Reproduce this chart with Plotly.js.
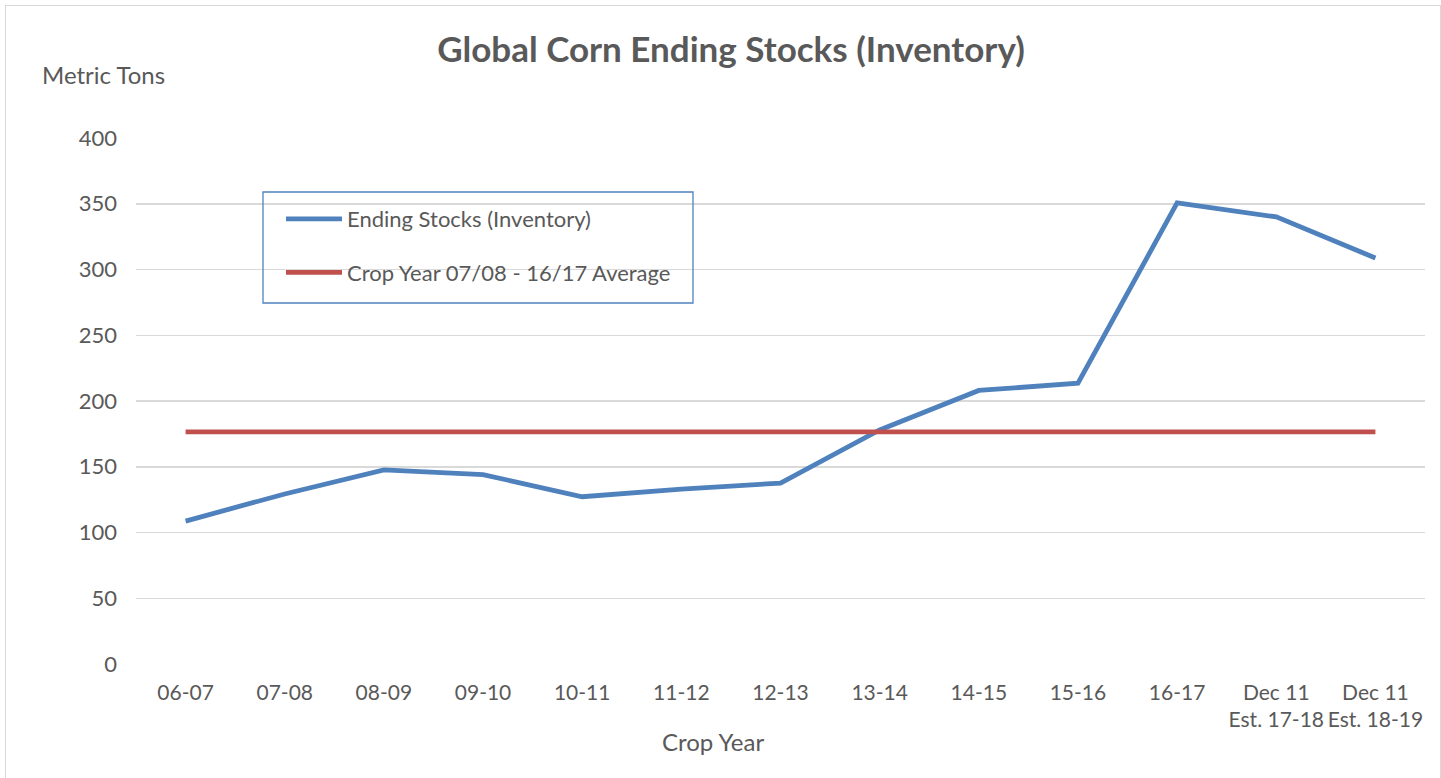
<!DOCTYPE html>
<html>
<head>
<meta charset="utf-8">
<script src="https://cdn.plot.ly/plotly-3.0.1.min.js"></script>
<style>
html,body{margin:0;padding:0;background:#fff;}
#wrap{position:absolute;left:0;top:0;width:1441px;height:778px;}
#frame{position:absolute;left:5px;top:5px;width:1436px;height:780px;border:1.5px solid #d9d9d9;box-sizing:border-box;pointer-events:none;}
#chart{width:1441px;height:778px;}
</style>
</head>
<body>
<div id="wrap"><div id="chart"></div><div id="frame"></div></div>
<script>
const categories = ["06-07","07-08","08-09","09-10","10-11","11-12","12-13","13-14","14-15","15-16","16-17","Dec 11<br>Est. 17-18","Dec 11<br>Est. 18-19"];
const endingStocks = [108.7, 129.3, 147.6, 144.0, 127.2, 133.0, 137.6, 178.0, 208.0, 213.6, 350.6, 340.0, 308.7];
const averageLine = [176.5, 176.5, 176.5, 176.5, 176.5, 176.5, 176.5, 176.5, 176.5, 176.5, 176.5, 176.5, 176.5];
const yTicks = [0, 50, 100, 150, 200, 250, 300, 350, 400];

const FONT = "Lato, 'Open Sans', sans-serif";
const GREY = "#595959";

const traces = [
  {x: categories, y: endingStocks, type: "scatter", mode: "lines", name: "Ending Stocks (Inventory)",
   line: {color: "#4f81bd", width: 4.8}, legendgroup: "a"},
  {x: categories, y: averageLine, type: "scatter", mode: "lines", name: "Crop Year 07/08 - 16/17 Average",
   line: {color: "#c0504d", width: 4.8}, legendgroup: "b"}
];

const W = 1441, H = 778, L = 136, R = 16, T = 138, B = 114;
const pw = W - L - R, ph = H - T - B;
const px = v => (v - L) / pw;
const py = v => (H - B - v) / ph;

const layout = {
  width: W, height: H,
  margin: {l: L, r: R, t: T, b: B, pad: 0},
  paper_bgcolor: "#ffffff", plot_bgcolor: "#ffffff",
  font: {family: FONT, color: GREY, size: 22},
  title: {text: "<b>Global Corn Ending Stocks (Inventory)</b>", font: {family: FONT, size: 35, color: GREY},
          x: 731 / W, xanchor: "center", y: 1 - 50 / H, yanchor: "middle", xref: "container", yref: "container"},
  showlegend: true,
  legend: {x: px(281), y: py(198), xanchor: "left", yanchor: "top",
           borderwidth: 0, bgcolor: "rgba(0,0,0,0)",
           font: {family: FONT, size: 22, color: GREY}, traceorder: "grouped", tracegroupgap: 22,
           itemwidth: 56},
  xaxis: {type: "category", tickvals: categories, ticktext: categories, range: [-0.5, 12.5],
          showgrid: false, zeroline: false, showline: false, ticks: "", ticklabelstandoff: 14,
          tickangle: 0, automargin: false,
          tickfont: {family: FONT, size: 21, color: GREY}, fixedrange: true},
  yaxis: {range: [0, 400], tickvals: yTicks, showgrid: true, gridcolor: "#d9d9d9", gridwidth: 1.5,
          zeroline: false, showline: false, ticks: "", ticklabelstandoff: 18,
          tickfont: {family: FONT, size: 22, color: GREY}, fixedrange: true},
  shapes: [
    {type: "rect", xref: "paper", yref: "paper", x0: px(263), x1: px(693), y0: py(303), y1: py(192),
     line: {color: "#4f81bd", width: 1.3}, fillcolor: "rgba(255,255,255,0)", layer: "above"}
  ],
  annotations: [
    {text: "Metric Tons", xref: "paper", yref: "paper", x: px(40), y: py(74),
     xanchor: "left", yanchor: "middle", showarrow: false, font: {family: FONT, size: 24, color: GREY}},
    {text: "Crop Year", xref: "paper", yref: "paper", x: px(713), y: py(741),
     xanchor: "center", yanchor: "middle", showarrow: false, font: {family: FONT, size: 24, color: GREY}}
  ]
};

Plotly.newPlot("chart", traces, layout, {displayModeBar: false, staticPlot: true});
</script>
</body>
</html>
